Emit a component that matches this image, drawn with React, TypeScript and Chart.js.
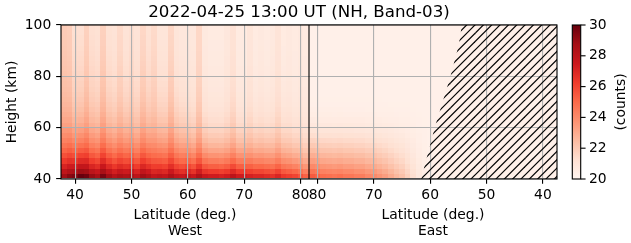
import React, { useEffect, useRef } from "react";
import { Chart, registerables } from "chart.js";

Chart.register(...registerables);

// ---------- text ----------
const TITLE = "2022-04-25 13:00 UT (NH, Band-03)";
const X_TITLE = "Latitude (deg.)";
const SIDE_NAMES = ["West", "East"];
const Y_TITLE = "Height (km)";
const CB_TITLE = "(counts)";

// ---------- domain ----------
const LAT_LOW = 37.5;
const LAT_HIGH = 81.5;
const LAT_STEP = 1;
const HEIGHT_MIN = 40;
const HEIGHT_MAX = 100;
const ROW_DEPTH = 2;
const COUNT_MIN = 20;
const COUNT_MAX = 30;

// ---------- data ----------
const rowBottoms = [40, 42, 44, 46, 48, 50, 52, 54, 56, 58, 60, 62, 64, 66, 68, 70, 72, 74, 76, 78, 80, 82, 84, 86, 88, 90, 92, 94, 96, 98];

const westLats = [38, 39, 40, 41, 42, 43, 44, 45, 46, 47, 48, 49, 50, 51, 52, 53, 54, 55, 56, 57, 58, 59, 60, 61, 62, 63, 64, 65, 66, 67, 68, 69, 70, 71, 72, 73, 74, 75, 76, 77, 78, 79, 80, 81];
// counts in the lowest row (40-42 km)
const westSurface = [
  28.8, 29.3, 29.5, 30.0, 29.8, 29.0, 28.6, 29.6, 28.8, 28.2,
  28.6, 28.4, 28.6, 28.0, 28.8, 28.4, 27.8, 28.0, 27.8, 28.4,
  27.8, 27.6, 28.0, 27.6, 28.4, 27.6, 27.4, 27.4, 27.2, 27.4,
  28.0, 27.4, 27.4, 27.2, 27.0, 27.0, 26.8, 26.6, 27.0, 26.4,
  26.2, 26.0, 25.6, 25.2,
];
// counts near the top of the panel
const westTop = [
  21.9, 21.8, 21.2, 21.2, 21.7, 21.2, 21.1, 21.7, 21.1, 21.0,
  21.4, 21.0, 21.2, 21.0, 21.5, 21.1, 21.4, 20.9, 20.9, 21.5,
  20.9, 20.8, 20.8, 20.8, 21.5, 20.7, 20.6, 20.6, 20.6, 20.8,
  21.1, 20.6, 20.6, 20.9, 20.6, 20.7, 20.6, 20.7, 21.0, 20.6,
  20.7, 20.6, 20.7, 20.6,
];
// how quickly the low-altitude excess fades with height in each column
const westSharpness = [
  1.0, 1.0, 1.0, 1.0, 1.0, 1.0, 1.0, 1.0, 1.0, 1.0,
  1.0, 1.0, 1.0, 1.0, 1.0, 1.0, 1.0, 1.0, 1.0, 1.0,
  1.05, 1.1, 1.15, 1.2, 1.2, 1.25, 1.3, 1.3, 1.3, 1.3,
  1.3, 1.3, 1.3, 1.3, 1.3, 1.3, 1.3, 1.3, 1.3, 1.3,
  1.35, 1.4, 1.4, 1.45,
];
// fraction of the surface excess remaining in each row
const westProfile = [
  1.0, 0.87, 0.75, 0.64, 0.55, 0.47, 0.4, 0.34, 0.29, 0.245,
  0.205, 0.175, 0.148, 0.126, 0.108, 0.093, 0.08, 0.069, 0.06, 0.052,
  0.045, 0.039, 0.033, 0.028, 0.023, 0.019, 0.015, 0.011, 0.007, 0.003,
];

const eastLats = [81, 80, 79, 78, 77, 76, 75, 74, 73, 72, 71, 70, 69, 68, 67, 66, 65, 64, 63, 62, 61, 60, 59, 58, 57, 56, 55, 54, 53, 52, 51, 50, 49, 48, 47, 46, 45, 44, 43, 42, 41, 40, 39, 38];
const eastSurface = [
  25.4, 25.2, 24.9, 24.8, 24.7, 24.8, 24.6, 24.6, 24.4, 24.4,
  24.1, 24.0, 23.7, 23.4, 23.0, 22.6, 22.3, 21.8, 21.3, 20.8,
  20.5, 20.3, 20.3, 20.3, 20.3, 20.3, 20.3, 20.3, 20.3, 20.3,
  20.3, 20.3, 20.3, 20.3, 20.3, 20.3, 20.3, 20.3, 20.3, 20.3,
  20.3, 20.3, 20.3, 20.3,
];
const EAST_TOP = 20.3;
const eastProfile = [
  1.0, 0.86, 0.73, 0.61, 0.51, 0.42, 0.34, 0.27, 0.2, 0.145,
  0.1, 0.065, 0.04, 0.022, 0.01, 0.004, 0, 0, 0, 0,
  0, 0, 0, 0, 0, 0, 0, 0, 0, 0,
];

// boundary of the no-data (hatched) region on the East side
const hatchHeights = [40, 45, 50, 55, 60, 65, 70, 75, 80, 85, 90, 95, 100];
const hatchLats = [61.6, 61.0, 60.4, 59.8, 59.2, 58.5, 57.8, 57.1, 56.4, 55.8, 55.2, 54.7, 54.4];

// ---------- ticks ----------
const westTickLats = [40, 50, 60, 70, 80];
const eastTickLats = [80, 70, 60, 50, 40];
const heightTicks = [40, 60, 80, 100];
const countTicks = [20, 22, 24, 26, 28, 30];

const redsStops = ["#fff5f0", "#fee0d2", "#fcbba1", "#fc9272", "#fb6a4a", "#ef3b2c", "#cb181d", "#a50f15", "#67000d"];

// ---------- helpers ----------
const SIDE_SPAN = LAT_HIGH - LAT_LOW;
const westU = (lat: number) => lat - LAT_LOW;
const eastU = (lat: number) => SIDE_SPAN + (LAT_HIGH - lat);

const PT = 100 / 72;
const FONT_FAMILY = "'DejaVu Sans', 'Liberation Sans', sans-serif";
const TICK_SIZE = 10 * PT;
const TITLE_SIZE = 12 * PT;
const GRID_COLOR = "#b0b0b0";

const PLOT_LEFT = 61;
const PLOT_TOP = 25;
const PLOT_RIGHT_GAP = 74;
const PLOT_BOTTOM_GAP = 64;
const TITLE_SHIFT = -10;

function hexToRgb(h: string) {
  return [parseInt(h.slice(1, 3), 16), parseInt(h.slice(3, 5), 16), parseInt(h.slice(5, 7), 16)];
}
const redsRgb = redsStops.map(hexToRgb);
function redsColor(v: number) {
  const t = Math.max(0, Math.min(1, (v - COUNT_MIN) / (COUNT_MAX - COUNT_MIN))) * (redsRgb.length - 1);
  const i = Math.min(redsRgb.length - 2, Math.floor(t));
  const f = t - i;
  const a = redsRgb[i];
  const b = redsRgb[i + 1];
  const c = a.map((av, k) => Math.round(av + (b[k] - av) * f));
  return `rgb(${c[0]},${c[1]},${c[2]})`;
}

const xTickValues = [...westTickLats.map(westU), ...eastTickLats.map(eastU)];
const xTickLabels = [...westTickLats, ...eastTickLats].map(String);

function makeHatch(ctxSource: HTMLCanvasElement) {
  const S = 25;
  const tile = document.createElement("canvas");
  tile.width = S;
  tile.height = S;
  const tc = tile.getContext("2d")!;
  tc.strokeStyle = "#000";
  tc.lineWidth = 1.2;
  for (let k = -2; k <= 8; k++) {
    const c = (k * S) / 3;
    tc.beginPath();
    tc.moveTo(c - S - 5, S + 5);
    tc.lineTo(c + 5, -5);
    tc.stroke();
  }
  return ctxSource.getContext("2d")!.createPattern(tile, "repeat")!;
}

const heatmapPlugin = {
  id: "heatmap",
  beforeDraw(chart: any) {
    const { ctx, chartArea, scales } = chart;
    const x = scales.x;
    const y = scales.y;
    ctx.save();
    ctx.beginPath();
    ctx.rect(chartArea.left, chartArea.top, chartArea.right - chartArea.left, chartArea.bottom - chartArea.top);
    ctx.clip();
    const cell = (u0: number, h0: number, v: number) => {
      const xa = Math.round(x.getPixelForValue(u0));
      const xb = Math.round(x.getPixelForValue(u0 + LAT_STEP));
      const ya = Math.round(y.getPixelForValue(h0 + ROW_DEPTH));
      const yb = Math.round(y.getPixelForValue(h0));
      ctx.fillStyle = redsColor(v);
      ctx.fillRect(xa, ya, xb - xa, yb - ya);
    };
    westLats.forEach((lat, c) => {
      const u0 = westU(lat - LAT_STEP / 2);
      rowBottoms.forEach((h, r) => {
        const v = westTop[c] + (westSurface[c] - westTop[c]) * Math.pow(westProfile[r], westSharpness[c]);
        cell(u0, h, v);
      });
    });
    eastLats.forEach((lat, c) => {
      const u0 = eastU(lat + LAT_STEP / 2);
      rowBottoms.forEach((h, r) => {
        const v = EAST_TOP + (eastSurface[c] - EAST_TOP) * eastProfile[r];
        cell(u0, h, v);
      });
    });
    ctx.restore();
  },
};

const overlayPlugin = {
  id: "overlay",
  afterDraw(chart: any) {
    const { ctx, chartArea, scales } = chart;
    const { left, right, top, bottom } = chartArea;
    const midY = (top + bottom) / 2;
    ctx.save();

    // axes frame
    ctx.strokeStyle = "#000";
    ctx.lineWidth = 0.8 * PT;
    ctx.strokeRect(left, top, right - left, bottom - top);

    // colour bar
    const cb = scales.y2;
    const cbX = right + 15.3;
    const cbW = 8.4;
    const yLo = cb.getPixelForValue(COUNT_MIN);
    const yHi = cb.getPixelForValue(COUNT_MAX);
    const grad = ctx.createLinearGradient(0, yLo, 0, yHi);
    redsStops.forEach((c, i) => grad.addColorStop(i / (redsStops.length - 1), c));
    ctx.fillStyle = grad;
    ctx.fillRect(cbX, yHi, cbW, yLo - yHi);
    ctx.strokeRect(cbX, yHi, cbW, yLo - yHi);
    countTicks.forEach((v) => {
      const py = cb.getPixelForValue(v);
      ctx.beginPath();
      ctx.moveTo(cbX + cbW, py);
      ctx.lineTo(cbX + cbW + 3.5 * PT, py);
      ctx.stroke();
    });

    ctx.fillStyle = "#000";
    // title
    ctx.font = `${TITLE_SIZE}px ${FONT_FAMILY}`;
    ctx.textAlign = "center";
    ctx.textBaseline = "alphabetic";
    ctx.fillText(TITLE, (left + right) / 2 + TITLE_SHIFT, top - 7.7);

    // x titles
    ctx.font = `${TICK_SIZE}px ${FONT_FAMILY}`;
    SIDE_NAMES.forEach((name, i) => {
      const cx = scales.x.getPixelForValue(SIDE_SPAN * (i + 0.5));
      ctx.fillText(X_TITLE, cx, bottom + 39.5);
      ctx.fillText(name, cx, bottom + 55.5);
    });

    // y title
    ctx.save();
    ctx.translate(left - 45, midY);
    ctx.rotate(-Math.PI / 2);
    ctx.fillText(Y_TITLE, 0, 0);
    ctx.restore();

    // colour bar title
    ctx.save();
    ctx.translate(right + 68, midY);
    ctx.rotate(-Math.PI / 2);
    ctx.fillText(CB_TITLE, 0, 0);
    ctx.restore();

    ctx.restore();
  },
};

export default function App() {
  const ref = useRef<HTMLCanvasElement>(null);
  useEffect(() => {
    const canvas = ref.current!;
    const hatch = makeHatch(canvas);
    const hatchPoints = [
      ...hatchHeights.map((h, i) => ({ x: eastU(hatchLats[i]), y: h })),
      { x: 2 * SIDE_SPAN, y: HEIGHT_MAX },
    ];
    const tickFont = { family: FONT_FAMILY, size: TICK_SIZE };
    const gridOpts = {
      color: GRID_COLOR,
      lineWidth: 0.8 * PT,
      tickColor: "#000",
      tickWidth: 0.8 * PT,
      tickLength: 3.5 * PT,
      drawTicks: true,
    };
    const chart = new Chart(canvas, {
      type: "scatter",
      data: {
        datasets: [
          {
            type: "line",
            label: "no data",
            data: hatchPoints,
            borderWidth: 0,
            borderColor: "rgba(0,0,0,0)",
            pointRadius: 0,
            fill: "start",
            backgroundColor: hatch as any,
            tension: 0,
          } as any,
          {
            type: "line",
            label: "divider",
            data: [
              { x: SIDE_SPAN, y: HEIGHT_MIN },
              { x: SIDE_SPAN, y: HEIGHT_MAX },
            ],
            borderColor: "#000",
            borderWidth: 1.1,
            pointRadius: 0,
            fill: false,
          } as any,
        ],
      },
      options: {
        animation: false,
        responsive: false,
        devicePixelRatio: 1,
        layout: { padding: { top: PLOT_TOP, left: 0, right: 0, bottom: 0 } },
        plugins: {
          legend: { display: false },
          tooltip: { enabled: false },
          title: { display: false },
        },
        scales: {
          x: {
            type: "linear",
            min: 0,
            max: 2 * SIDE_SPAN,
            afterBuildTicks: (s: any) => {
              s.ticks = xTickValues.map((v) => ({ value: v }));
            },
            afterFit: (s: any) => {
              s.height = PLOT_BOTTOM_GAP;
            },
            ticks: {
              callback: (_v: any, i: number) => xTickLabels[i],
              autoSkip: false,
              maxRotation: 0,
              minRotation: 0,
              padding: 3,
              font: tickFont,
              color: "#000",
            },
            grid: gridOpts,
            border: { display: false },
          },
          y: {
            type: "linear",
            position: "left",
            min: HEIGHT_MIN,
            max: HEIGHT_MAX,
            afterBuildTicks: (s: any) => {
              s.ticks = heightTicks.map((v) => ({ value: v }));
            },
            afterFit: (s: any) => {
              s.width = PLOT_LEFT;
            },
            ticks: { padding: 3.5 * PT, font: tickFont, color: "#000" },
            grid: gridOpts,
            border: { display: false },
          },
          y2: {
            type: "linear",
            position: "right",
            min: COUNT_MIN,
            max: COUNT_MAX,
            afterBuildTicks: (s: any) => {
              s.ticks = countTicks.map((v) => ({ value: v }));
            },
            afterFit: (s: any) => {
              s.width = PLOT_RIGHT_GAP;
            },
            ticks: { padding: 4, font: tickFont, color: "#000" },
            grid: { display: false, drawTicks: true, tickLength: 28, drawOnChartArea: false },
            border: { display: false },
          },
        },
      } as any,
      plugins: [heatmapPlugin, overlayPlugin],
    });
    return () => chart.destroy();
  }, []);
  return (
    <div style={{ position: "absolute", left: 0, top: 0, width: 631, height: 243, background: "#fff" }}>
      <canvas ref={ref} width={631} height={243} style={{ display: "block" }} />
    </div>
  );
}
